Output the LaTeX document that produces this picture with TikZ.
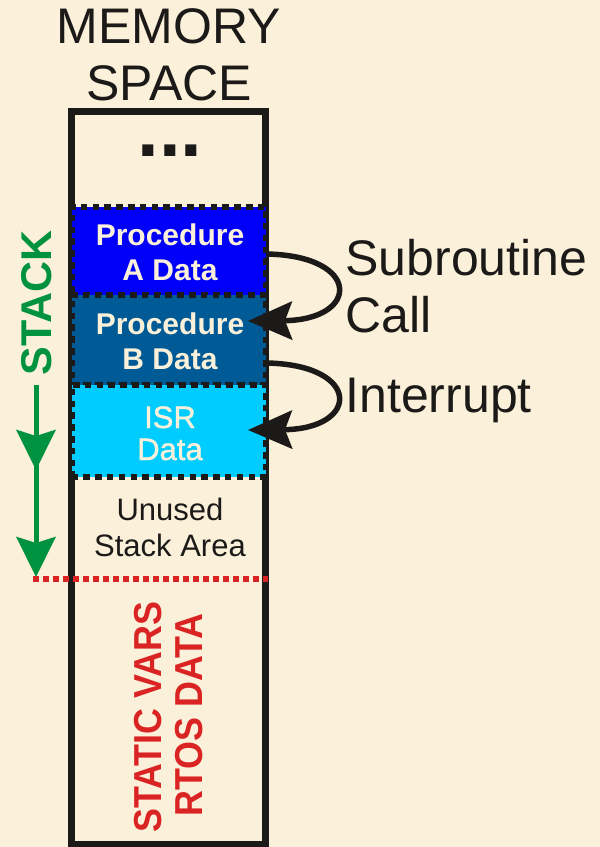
\documentclass[tikz,border=0pt]{standalone}
\usepackage{fontspec}
\setmainfont{Liberation Sans}
\newfontfamily\isrfont[FakeBold=1.3]{Liberation Sans}
\usetikzlibrary{arrows.meta}
\definecolor{bgcream}{RGB}{251,241,218}
\definecolor{inkblack}{RGB}{28,26,24}
\definecolor{blkAcol}{RGB}{0,0,250}
\definecolor{blkBcol}{RGB}{0,90,150}
\definecolor{blkIcol}{RGB}{0,204,255}
\definecolor{stackgreen}{RGB}{0,146,63}
\definecolor{staticred}{RGB}{218,36,36}
\begin{document}
\begin{tikzpicture}[x=1pt,y=-1pt,
  every node/.style={inner sep=0pt,outer sep=0pt},
  titletext/.style={font=\fontsize{50}{60}\selectfont, text=inkblack, anchor=base},
  blocktext/.style={font=\bfseries\fontsize{30}{36}\selectfont, text=bgcream, anchor=base},
  isrtext/.style={font=\isrfont\fontsize{31}{36}\selectfont, text=bgcream, anchor=base},
  plaintext/.style={font=\fontsize{31}{36}\selectfont, text=inkblack, anchor=base},
  sidetext/.style={font=\fontsize{50}{60}\selectfont, text=inkblack, anchor=base west},
  memframe/.style={draw=inkblack, line width=7pt},
  stackblock/.style={draw=inkblack, line width=6pt, dash pattern=on 6.5pt off 5.3pt, minimum width=194pt},
  callarrow/.style={draw=inkblack, line width=5.5pt, -{Stealth[length=44pt,width=38pt,inset=7pt]}},
  greenarrow/.style={draw=stackgreen, line width=5pt, -{Stealth[length=40pt,width=39pt,inset=6pt]}},
  reddots/.style={draw=staticred, line width=6pt, dash pattern=on 6pt off 4pt},
  redtext/.style={font=\bfseries\fontsize{39}{44}\selectfont, text=staticred, rotate=90, xscale=0.92}
]
\fill[bgcream] (0,0) rectangle (600,847);
\useasboundingbox (0,0) rectangle (600,847);

% title
\node[titletext] (t1) at (169,43) {MEMORY};
\node[titletext] (t2) at (169,100) {SPACE};

% memory frame
\coordinate (memTL) at (71.5,111.5);
\coordinate (memBR) at (265.5,844);
\draw[memframe] (memTL) rectangle (memBR);

% dots
\node[font=\bfseries\fontsize{78}{80}\selectfont, text=inkblack, anchor=base] (dots) at (170,156) {...};

% stack blocks
\node[stackblock, fill=blkAcol, minimum height=88pt] (blkA) at (168.5,251) {};
\node[stackblock, fill=blkBcol, minimum height=90pt] (blkB) at (168.5,340) {};
\node[stackblock, fill=blkIcol, minimum height=92pt] (blkI) at (168.5,431) {};

\node[blocktext] (a1) at (170,245) {Procedure};
\node[blocktext] (a2) at (170,280) {A Data};
\node[blocktext] (b1) at (170,334) {Procedure};
\node[blocktext] (b2) at (170,369) {B Data};
\node[isrtext] (i1) at (170,428) {ISR};
\node[isrtext] (i2) at (170,460) {Data};

\node[plaintext] (u1) at (170,520) {Unused};
\node[plaintext] (u2) at (170,556) {Stack Area};

% side labels
\node[sidetext] (s1) at (345.5,275) {Subroutine};
\node[sidetext] (s2) at (345.5,332) {Call};
\node[sidetext] (s3) at (345.5,412) {Interrupt};

% call arrows
\coordinate (sA) at (267,254);
\coordinate (tB) at (248,321);
\draw[callarrow] (sA) .. controls (362,256) and (360,320) .. (tB);
\coordinate (sB) at (267,363);
\coordinate (tI) at (248,430);
\draw[callarrow] (sB) .. controls (362,365) and (360,429) .. (tI);

% stack arrow
\node[font=\bfseries\fontsize{43}{50}\selectfont, text=stackgreen, rotate=90] (stacklbl) at (37,303) {STACK};
\coordinate (gTop) at (36,385);
\coordinate (gMid) at (36,470);
\coordinate (gBot) at (36,577);
\draw[greenarrow] (gTop) -- (gBot);
\draw[greenarrow] (gTop) -- (gMid);

% boundary line
\coordinate (rL) at (33,579);
\coordinate (rR) at (268,579);
\draw[reddots] (rL) -- (rR);

% static area labels
\node[redtext] (r1) at (148,717) {STATIC VARS};
\node[redtext] (r2) at (189,715) {RTOS DATA};
\end{tikzpicture}
\end{document}
